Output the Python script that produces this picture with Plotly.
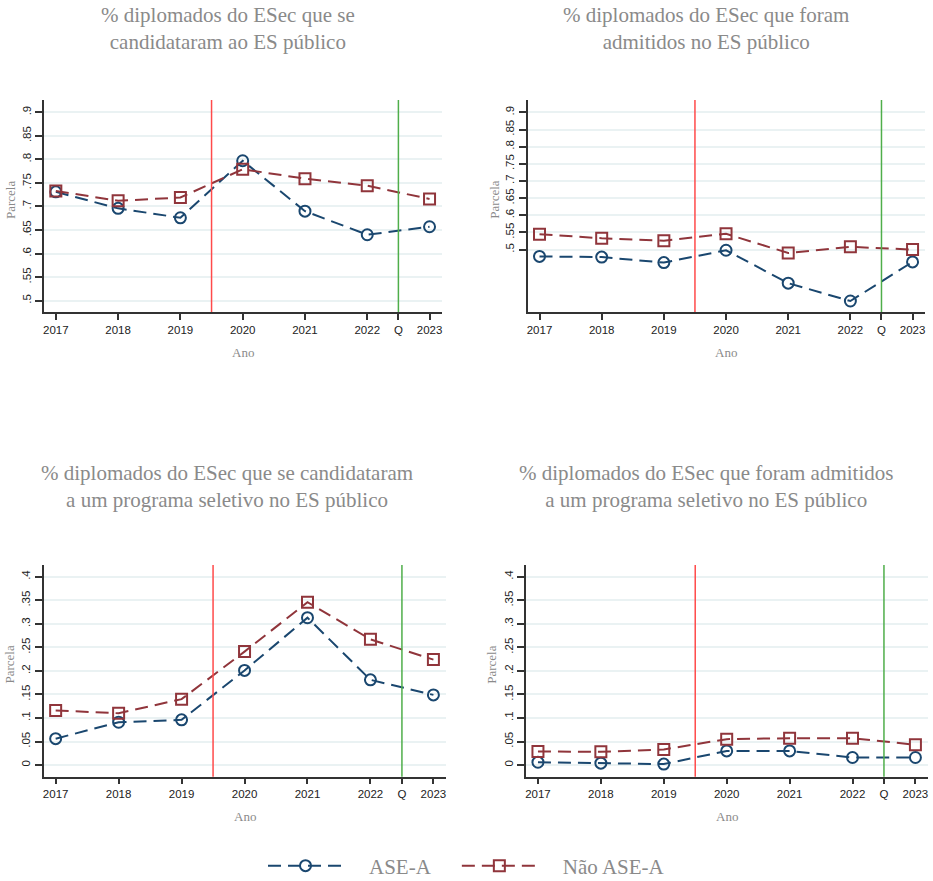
import plotly.graph_objects as go

# Years and the extra "Q" tick between 2022 and 2023
years = [2017, 2018, 2019, 2020, 2021, 2022, 2023]
x_tickvals = [2017, 2018, 2019, 2020, 2021, 2022, 2022.5, 2023]
x_ticktext = ["2017", "2018", "2019", "2020", "2021", "2022", "Q", "2023"]

# Panel 1: applied to public higher education
cand_ase = [0.731, 0.696, 0.676, 0.797, 0.690, 0.640, 0.657]
cand_nao = [0.733, 0.712, 0.719, 0.779, 0.759, 0.744, 0.716]

# Panel 2: admitted to public higher education
adm_ase = [0.480, 0.478, 0.462, 0.498, 0.402, 0.350, 0.464]
adm_nao = [0.545, 0.533, 0.526, 0.546, 0.490, 0.508, 0.500]

# Panel 3: applied to a selective programme
sel_cand_ase = [0.056, 0.091, 0.096, 0.201, 0.313, 0.181, 0.149]
sel_cand_nao = [0.116, 0.110, 0.140, 0.241, 0.346, 0.267, 0.224]

# Panel 4: admitted to a selective programme
sel_adm_ase = [0.006, 0.004, 0.002, 0.030, 0.030, 0.016, 0.016]
sel_adm_nao = [0.029, 0.028, 0.033, 0.055, 0.057, 0.057, 0.043]

titles = [
    "% diplomados do ESec que se<br>candidataram ao ES público",
    "% diplomados do ESec que foram<br>admitidos no ES público",
    "% diplomados do ESec que se candidataram<br>a um programa seletivo no ES público",
    "% diplomados do ESec que foram admitidos<br>a um programa seletivo no ES público",
]

top_ticks = [0.5, 0.55, 0.6, 0.65, 0.7, 0.75, 0.8, 0.85, 0.9]
bottom_ticks = [0, 0.05, 0.1, 0.15, 0.2, 0.25, 0.3, 0.35, 0.4]

def fmt(v):
    s = ("%g" % v)
    return s[1:] if s.startswith("0.") else s

W, H = 933, 881
BLUE = "#1a476f"
MAROON = "#90353b"
GRAY_TXT = "#8a8a8a"
SERIF = "Liberation Serif, Times New Roman, serif"
SANS = "Liberation Sans, Arial, sans-serif"
NB = "\u00a0"

# plot areas in pixels: (left, right, top, bottom)
boxes = [
    (44, 442, 100, 312),
    (527.7, 925, 100, 312),
    (43.7, 446, 565, 776.7),
    (526, 928, 565, 776.7),
]
yranges = [(0.476, 0.926), (0.318, 0.936), (-0.0248, 0.425), (-0.0248, 0.425)]
yticks = [top_ticks, top_ticks, bottom_ticks, bottom_ticks]
series = [
    (cand_ase, cand_nao),
    (adm_ase, adm_nao),
    (sel_cand_ase, sel_cand_nao),
    (sel_adm_ase, sel_adm_nao),
]
title_cx = [228, 706, 227, 706]
title_cy = [28, 28, 486, 486]

fig = go.Figure()
layout = dict(
    width=W, height=H,
    margin=dict(l=0, r=0, t=0, b=0, autoexpand=False),
    paper_bgcolor="white", plot_bgcolor="white",
    showlegend=True,
    legend=dict(
        orientation="h", x=0.5, xanchor="center",
        y=1 - 866 / H, yanchor="middle",
        font=dict(family=SERIF, size=21, color=GRAY_TXT),
        itemwidth=75, traceorder="normal",
    ),
)
shapes = []
annotations = []

for i, ((l, r, t, b), yr, yt, (s_ase, s_nao)) in enumerate(zip(boxes, yranges, yticks, series)):
    n = "" if i == 0 else str(i + 1)
    xa, ya = "x" + n, "y" + n
    layout["xaxis" + n] = dict(
        domain=[l / W, r / W], range=[2016.81, 2023.2], anchor=ya,
        tickmode="array", tickvals=x_tickvals, ticktext=x_ticktext,
        ticks="outside", ticklen=6, tickwidth=1.5, tickcolor="#333",
        showline=True, linecolor="#333", linewidth=1.5,
        showgrid=False, zeroline=False,
        tickfont=dict(family=SANS, size=11.5, color="#222"),
    )
    layout["yaxis" + n] = dict(
        domain=[1 - b / H, 1 - t / H], range=list(yr), anchor=xa,
        tickmode="array", tickvals=yt, ticktext=[fmt(v) for v in yt],
        tickangle=-90,
        ticks="outside", ticklen=7, tickwidth=1.5, tickcolor="#333",
        showline=True, linecolor="#333", linewidth=1.5,
        showgrid=True, gridcolor="#eaf2f3", gridwidth=1.5, zeroline=False,
        tickfont=dict(family=SANS, size=11.5, color="#222"),
    )
    for xv, col in ((2019.5, "#ff4a4a"), (2022.5, "#4fae4a")):
        shapes.append(dict(
            type="line", xref=xa, yref=ya + " domain", x0=xv, x1=xv, y0=0, y1=1,
            line=dict(color=col, width=1.5), layer="above",
        ))
    fig.add_trace(go.Scatter(
        x=years, y=s_ase, xaxis=xa, yaxis=ya, name=NB * 4 + "ASE-A" + NB * 4,
        mode="lines+markers", showlegend=(i == 0), legendgroup="a",
        line=dict(color=BLUE, width=2, dash="13px,7px"),
        marker=dict(symbol="circle-open", size=11, color=BLUE, line=dict(width=2, color=BLUE)),
    ))
    fig.add_trace(go.Scatter(
        x=years, y=s_nao, xaxis=xa, yaxis=ya, name=NB * 4 + "Não ASE-A",
        mode="lines+markers", showlegend=(i == 0), legendgroup="b",
        line=dict(color=MAROON, width=2, dash="13px,7px"),
        marker=dict(symbol="square-open", size=11, color=MAROON, line=dict(width=2, color=MAROON)),
    ))
    # panel title
    annotations.append(dict(
        text=titles[i], xref="paper", yref="paper",
        x=title_cx[i] / W, y=1 - title_cy[i] / H, xanchor="center", yanchor="middle",
        showarrow=False, font=dict(family=SERIF, size=21, color=GRAY_TXT),
    ))
    # axis titles
    annotations.append(dict(
        text="Parcela", xref="paper", yref="paper",
        x=(l - 34) / W, y=1 - ((t + b) / 2 - 6) / H, xanchor="center", yanchor="middle",
        textangle=-90, showarrow=False, font=dict(family=SERIF, size=13, color=GRAY_TXT),
    ))
    annotations.append(dict(
        text="Ano", xref="paper", yref="paper",
        x=((l + r) / 2) / W, y=1 - (b + 40) / H, xanchor="center", yanchor="middle",
        showarrow=False, font=dict(family=SERIF, size=13, color=GRAY_TXT),
    ))

layout["shapes"] = shapes
layout["annotations"] = annotations
fig.update_layout(**layout)
fig.write_html("out.html")
